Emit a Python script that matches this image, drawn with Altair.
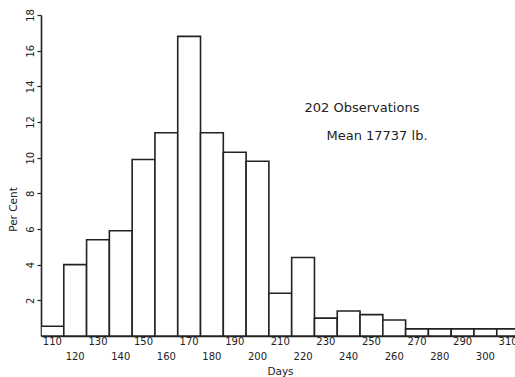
import altair as alt
import pandas as pd

# ---- data ----
days = [110, 120, 130, 140, 150, 160, 170, 180, 190, 200, 210,
        220, 230, 240, 250, 260, 270, 280, 290, 300, 310]
percent = [0.55, 4.0, 5.4, 5.9, 9.9, 11.4, 16.8, 11.4, 10.3, 9.8, 2.4,
           4.4, 1.0, 1.4, 1.2, 0.9, 0.4, 0.4, 0.4, 0.4, 0.4]
upper_labels = ["110", "130", "150", "170", "190", "210", "230", "250", "270", "290", "310"]
lower_labels = ["120", "140", "160", "180", "200", "220", "240", "260", "280", "300"]
y_ticks = [2, 4, 6, 8, 10, 12, 14, 16, 18]
note_lines = ["202 Observations", "Mean 17737 lb."]

INK = "#222222"
FONT = "DejaVu Sans"

df = pd.DataFrame({"day": days, "pct": percent})
df["lo"] = df["day"] - 5
df["hi"] = df["day"] + 5

xscale = alt.Scale(domain=[105, 313], nice=False, zero=False)
yscale = alt.Scale(domain=[0, 18], nice=False)

bars = alt.Chart(df).mark_bar(
    fill="white", stroke=INK, strokeWidth=1.6, clip=True
).encode(
    x=alt.X("lo:Q", scale=xscale,
            axis=alt.Axis(labels=False, ticks=False, grid=False, domain=True,
                          domainColor=INK, domainWidth=1.6,
                          title="Days", titleFont=FONT, titleFontSize=10.5,
                          titleFontWeight="normal", titleColor=INK,
                          titleX=239, titleY=35, titleBaseline="middle",
                          titleAlign="center")),
    x2="hi:Q",
    y=alt.Y("pct:Q", scale=yscale,
            axis=alt.Axis(values=y_ticks, grid=False, domain=True,
                          domainColor=INK, domainWidth=1.6,
                          tickColor=INK, tickSize=4, tickWidth=1.2,
                          labelAngle=270, labelFont=FONT, labelFontSize=10,
                          labelColor=INK, labelPadding=2,
                          title="Per Cent", titleFont=FONT, titleFontSize=10.5,
                          titleFontWeight="normal", titleColor=INK,
                          titleAngle=270, titleX=-28, titleY=194,
                          titleAlign="center", titleBaseline="middle")),
    y2=alt.datum(0),
)

up_df = pd.DataFrame({"lab": upper_labels})
up_df["pos"] = up_df["lab"].astype(int)
lo_df = pd.DataFrame({"lab": lower_labels})
lo_df["pos"] = lo_df["lab"].astype(int)

upper = alt.Chart(up_df).mark_text(
    font=FONT, fontSize=10, color=INK, baseline="middle", align="center"
).encode(x=alt.X("pos:Q", scale=xscale), y=alt.value(327), text="lab:N")

lower = alt.Chart(lo_df).mark_text(
    font=FONT, fontSize=10, color=INK, baseline="middle", align="center"
).encode(x=alt.X("pos:Q", scale=xscale), y=alt.value(342), text="lab:N")

note1 = alt.Chart(pd.DataFrame({"t": [note_lines[0]]})).mark_text(
    font=FONT, fontSize=13, color=INK, align="center", baseline="middle"
).encode(x=alt.value(321), y=alt.value(93), text="t:N")

note2 = alt.Chart(pd.DataFrame({"t": [note_lines[1]]})).mark_text(
    font=FONT, fontSize=13, color=INK, align="center", baseline="middle"
).encode(x=alt.value(336), y=alt.value(121), text="t:N")

chart = alt.layer(bars, upper, lower, note1, note2).properties(
    width=474, height=321,
    autosize=alt.AutoSizeParams(type="none"),
    padding={"left": 41, "top": 15, "right": 0, "bottom": 41},
    background="white",
).configure_view(stroke=None)

chart.save("out.html", embed_options={"renderer": "svg", "actions": False})
